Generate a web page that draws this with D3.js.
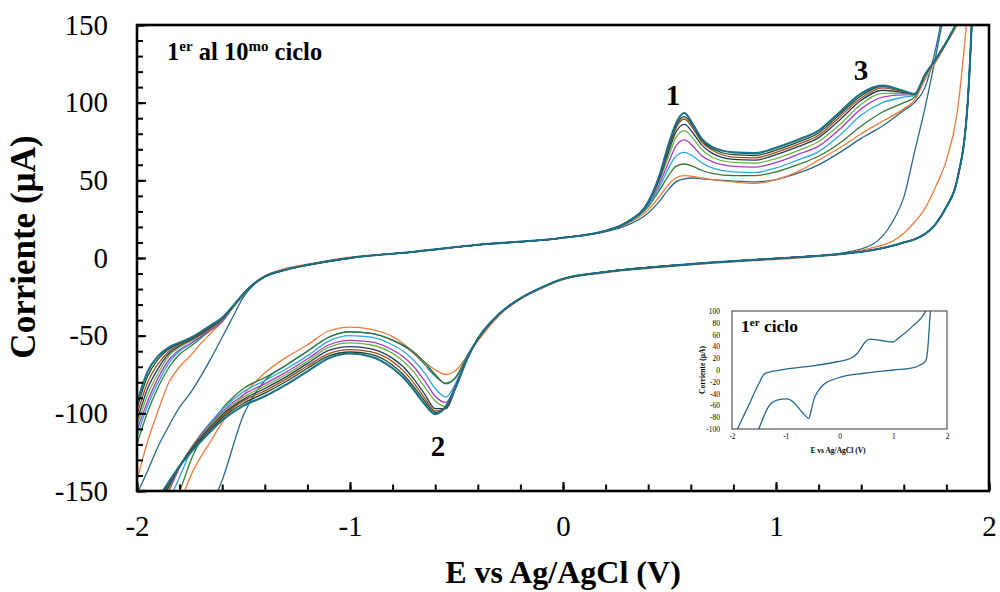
<!DOCTYPE html>
<html><head><meta charset="utf-8">
<script src="https://cdn.jsdelivr.net/npm/d3@7"></script>
<style>
body{margin:0;background:#fff;}
svg{display:block;}
text{font-family:"Liberation Serif","Times New Roman",serif;fill:#000;}
</style></head><body>
<svg id="chart" width="1000" height="592"></svg>
<script>
// ---------- DATA ----------
const xTicks = [-2, -1, 0, 1, 2];
const yTicks = [-150, -100, -50, 0, 50, 100, 150];
const insetYTicks = [-100, -80, -60, -40, -20, 0, 20, 40, 60, 80, 100];
const cycleColors = ["#25688e", "#f07a3a", "#2e7a36", "#2ba6de", "#a83cbf", "#6ab545", "#1f3b5c", "#9c4e1a", "#1d4a2a", "#1b6f88"];

// anodic (upper) branch potentials, V
const upE = [-2.0,-1.95,-1.9,-1.85,-1.8,-1.75,-1.7,-1.65,-1.6,-1.55,-1.5,-1.45,-1.4,-1.3,-1.2,-1.0,-0.7,-0.4,0,0.2,0.3,0.4,0.45,0.5,0.53,0.57,0.61,0.65,0.7,0.8,0.9,1.0,1.1,1.2,1.3,1.4,1.5,1.6,1.65,1.7,1.75,1.8,1.85,1.9,1.95];
const up1  = [-152,-137,-121,-108,-96,-87,-76,-64,-51,-38,-25,-17,-12,-7.5,-4.5,0,4,8.5,13,17,21,29,36,45,49,51,51.5,51,50.5,49.5,49,50.5,54.5,60,68,77,85,95,100,110,135,170,210,250,290];
const up2  = [-143,-118,-98,-80,-70,-63,-55,-48,-41,-32,-23,-16,-11.5,-6.5,-4,0.5,4,8.5,13,17.5,22,31,39,48,51.5,53,52.5,51.5,50.5,49,48,50.5,55.5,63,71,80,88,96,101.5,115,126,138,150,168,200];
const up3  = [-120,-99,-83,-70.5,-62,-57,-51.5,-46,-40.5,-32,-23.5,-16.5,-12,-7.5,-4.5,0,4,8.5,13,17.5,22.5,33,43,54,59,60.5,59,56.5,54.5,53,53,55.5,60,65.5,74,85,94,100,103.5,117,127.5,139,152,170,200];
const up4  = [-115,-95,-80,-67.5,-60,-55.5,-50.5,-45.5,-40,-32,-23.5,-16.5,-12,-7.5,-4.5,0,4,8.5,13,17.5,22.5,34,45,59,65.5,68,65.5,61.5,58,55.5,55,58,63,68.5,79,92,100,103.5,104.5,117,127.5,139,152,170,200];
const up5  = [-111,-92,-77,-65.5,-59,-55,-50.5,-46,-41,-32,-23.5,-16.5,-12,-7.5,-4.5,0,4,8.5,13,17.5,23,35,47,63,72,76,72,66,62,59,58.5,61.5,66.5,72,83,96,103.5,105,105,117.5,128,139,152,170,200];
const up6  = [-108,-88,-74,-63,-57.5,-53.5,-49.5,-45,-40,-32,-23.5,-16.5,-12,-7.5,-4.5,0,4,8.5,13,17.5,23,35.5,49,67,77.5,82,77,70,65,61.5,61,64,69,75,86,99,106,106,105,117.5,128,139,152,170,200];
const up7  = [-105,-84,-71,-61.5,-56.5,-53,-49,-44.5,-39.5,-31.5,-23,-16.5,-12,-7.5,-4.5,0,4,8.5,13,17.5,23,35.5,50,70,81,86,80.5,73,67.5,63.5,63,66.5,71.5,77.5,89,101.5,108,106.5,105.5,118,128,139,152,170,200];
const up8  = [-101,-80,-68,-60,-55.5,-52.5,-48.5,-44,-39,-31.5,-23,-16.5,-12,-7.5,-4.5,0,4,8.5,13,17.5,23,36,51,72,83.5,89.5,83.5,75,69.5,65,64.5,68,73,79,91,103,109.5,107,105.5,118,128,139,152,170,200];
const up9  = [-97,-76,-65,-58.5,-55,-52,-48,-43.5,-38.5,-31,-23,-16.5,-12,-7.5,-4.5,0,4,8.5,13,17.5,23,36,51.5,73.5,85,91,85,76,70.5,66.5,66,69.5,74.5,80.5,92.5,104.5,110.5,107.5,105.5,118,128,139,152,170,200];
const up10 = [-93,-73,-63,-57.5,-54.5,-51.5,-47.5,-43,-38.5,-31,-23,-16.5,-12,-7.5,-4.5,0,4,8.5,13,17.5,23,36,52,75,86.5,93.3,86,77,71.5,68,67.5,71,76,82,94,106,111,107.5,105.5,118,128,139,152,170,200];

// cathodic (lower) branch potentials, V
const loE = [-2.0,-1.9,-1.85,-1.8,-1.74,-1.65,-1.6,-1.5,-1.4,-1.3,-1.2,-1.1,-1.0,-0.9,-0.8,-0.75,-0.7,-0.65,-0.6,-0.55,-0.5,-0.45,-0.4,-0.3,-0.2,-0.1,0,0.2,0.5,0.8,1.1,1.3,1.45,1.55,1.6,1.65,1.7,1.75,1.8,1.85,1.9,1.95];
const lo1  = [-300,-260,-240,-215,-190,-160,-143,-101,-79,-69,-60,-51,-47.5,-48.5,-53,-56.5,-61.5,-68.5,-76,-80.5,-76.5,-63,-52.5,-36.5,-26,-19,-13.5,-9,-5,-2,0.5,3,8.5,24,39,68,97,130,165,200,240,280];
const lo2  = [-220,-195,-175,-158,-138,-117,-106,-88,-74,-64,-56,-47,-44.5,-46,-50.6,-55,-61,-67,-72,-75,-72,-63,-53.5,-37,-26.5,-19.5,-14,-9.5,-5.5,-2.5,0,2.5,6.5,11,16,23,32,46,63,93,160,250];
const lo3  = [-200,-180,-165,-150,-128,-106,-97,-84,-77,-69,-60,-51,-47.4,-48.5,-52.8,-56,-60.5,-67,-75,-81,-76,-63,-52.5,-36,-26,-19,-13.5,-9,-5,-2,0.5,2.5,5,8,10,12,15.5,22,33,50,100,260];
const lo4  = [-190,-168,-156,-141,-122,-105,-97.5,-86,-79,-71.5,-63,-53.5,-50,-51,-56,-60,-66,-74,-84,-89.5,-79.5,-63.5,-52,-36,-26,-19,-13.5,-9,-5,-2,0.5,2.5,5,8,10,12,15.5,22,33,50,100,260];
const lo5  = [-185,-163,-150,-135,-121,-106,-99,-88,-81,-73.5,-65,-56,-53,-54,-59.2,-63.5,-70,-79,-89,-93,-80.5,-64,-52,-36,-26,-19,-13.5,-9,-5,-2,0.5,2.5,5,8,10,12,15.5,22,33,50,100,260];
const lo6  = [-185,-160,-148,-134,-121.5,-107,-100,-89.5,-82.5,-75,-66.5,-57.5,-54.7,-56,-61.4,-66.5,-73.5,-83,-92,-95.5,-81.5,-64,-52,-36,-26,-19,-13.5,-9,-5,-2,0.5,2.5,5,8,10,12,15.5,22,33,50,100,260];
const lo7  = [-185,-158,-147,-134,-122,-108,-101,-91,-84,-76.5,-68,-59.5,-57,-58.5,-64.6,-70,-78,-87.5,-97,-97,-82,-64.5,-52,-36,-26,-19,-13.5,-9,-5,-2,0.5,2.5,5,8,10,12,15.5,22,33,50,100,260];
const lo8  = [-185,-157,-146,-134,-122.5,-109,-102,-92,-85.5,-78,-69.5,-61.5,-59,-60.5,-66.7,-72.5,-80.5,-90,-98.5,-96.5,-82,-64.5,-52,-36,-26,-19,-13.5,-9,-5,-2,0.5,2.5,5,8,10,12,15.5,22,33,50,100,260];
const lo9  = [-185,-156,-145,-134,-123,-110,-103,-93.5,-87,-79.5,-71,-63,-60.5,-62,-69,-75,-83,-92,-99.5,-96,-82,-64.5,-52,-36,-26,-19,-13.5,-9,-5,-2,0.5,2.5,5,8,10,12,15.5,22,33,50,100,260];
const lo10 = [-185,-155,-144,-134,-124,-111,-104.5,-95,-89,-81.5,-73,-64.5,-61.5,-63.5,-71,-77,-85,-94,-100.5,-95.5,-82,-65,-52,-36,-26,-19,-13.5,-9,-5,-2,0.5,2.5,5,8,10,12,15.5,22,33,50,100,260];

// inset: first cycle only
const insetUpE = [-1.95,-1.895,-1.8,-1.7,-1.6,-1.5,-1.44,-1.4,-1.3,-1.16,-1.0,-0.5,-0.05,0.2,0.33,0.4,0.48,0.57,0.7,0.85,0.98,1.13,1.32,1.38,1.5,1.6,1.65];
const insetUpI = [-111,-100,-81,-62,-42,-23,-12,-7,-3.5,-1,1.5,7,14,19.5,28,37,48,52.5,51,49,47.5,56.5,70.5,76,86,99,110];
const insetLoE = [-1.55,-1.5,-1.45,-1.41,-1.32,-1.16,-0.98,-0.85,-0.73,-0.65,-0.574,-0.52,-0.48,-0.4,-0.3,-0.05,0.45,1.0,1.38,1.5,1.58,1.62,1.65,1.67,1.69,1.71];
const insetLoI = [-118,-100,-88,-79,-62,-51,-49,-55,-68,-76,-82,-66,-51,-36,-25,-14,-5.5,0,4,8.5,13,20,45,72,100,130];

const upper = [up1, up2, up3, up4, up5, up6, up7, up8, up9, up10];
const lower = [lo1, lo2, lo3, lo4, lo5, lo6, lo7, lo8, lo9, lo10];

// ---------- CHART ----------
const svg = d3.select("#chart");
const m = {l: 137, r: 989, t: 25, b: 491};
const x = d3.scaleLinear().domain([-2, 2]).range([m.l, m.r]);
const y = d3.scaleLinear().domain([-150, 150]).range([m.b, m.t]);

const defs = svg.append("defs");
defs.append("clipPath").attr("id", "clipMain").append("rect")
  .attr("x", m.l).attr("y", m.t).attr("width", m.r - m.l).attr("height", m.b - m.t);

const line = d3.line().x(d => x(d[0])).y(d => y(d[1])).curve(d3.curveMonotoneX);
const gLines = svg.append("g").attr("clip-path", "url(#clipMain)");
upper.forEach((arr, i) => {
  const w = i === 9 ? 2.1 : 1.3;
  gLines.append("path").datum(upE.map((e, j) => [e, arr[j]]))
    .attr("d", line).attr("fill", "none").attr("stroke", cycleColors[i]).attr("stroke-width", w);
  gLines.append("path").datum(loE.map((e, j) => [e, lower[i][j]]))
    .attr("d", line).attr("fill", "none").attr("stroke", cycleColors[i]).attr("stroke-width", w);
});

// axes (inward ticks)
function styleAxis(g) {
  g.select(".domain").remove();
  g.selectAll(".tick line").attr("stroke", "#000").attr("stroke-width", 2);
}
svg.append("g").attr("transform", `translate(${m.l},0)`)
  .call(d3.axisLeft(y).tickValues(d3.range(-150, 151, 10)).tickSize(-6).tickFormat(""))
  .call(styleAxis);
const yAx = svg.append("g").attr("transform", `translate(${m.l},0)`)
  .call(d3.axisLeft(y).tickValues(yTicks).tickSize(-9).tickPadding(29).tickFormat(d => String(d)))
  .call(styleAxis);
yAx.selectAll("text").attr("font-size", 29).attr("font-family", "Liberation Serif").attr("fill", "#000");

svg.append("g").attr("transform", `translate(0,${m.b})`)
  .call(d3.axisBottom(x).tickValues(d3.range(-2, 2.01, 0.2)).tickSize(-6.5).tickFormat(""))
  .call(styleAxis);
const xAx = svg.append("g").attr("transform", `translate(0,${m.b})`)
  .call(d3.axisBottom(x).tickValues(xTicks).tickSize(-9).tickPadding(24).tickFormat(d => String(d)))
  .call(styleAxis);
xAx.selectAll("text").attr("font-size", 29).attr("font-family", "Liberation Serif").attr("fill", "#000");

// frame
svg.append("rect").attr("x", m.l).attr("y", m.t).attr("width", m.r - m.l).attr("height", m.b - m.t)
  .attr("fill", "none").attr("stroke", "#000").attr("stroke-width", 2.6);

// axis titles
svg.append("text").attr("x", 563).attr("y", 583).attr("text-anchor", "middle")
  .attr("font-size", 32).attr("font-weight", "bold").text("E vs Ag/AgCl (V)");
svg.append("text").attr("transform", "translate(35,247) rotate(-90)").attr("text-anchor", "middle")
  .attr("font-size", 35).attr("font-weight", "bold").text("Corriente (µA)");

// annotations
const t1 = svg.append("text").attr("x", 167).attr("y", 60).attr("font-size", 24.5).attr("font-weight", "bold");
t1.append("tspan").text("1");
t1.append("tspan").attr("font-size", 15).attr("dy", -9).text("er");
t1.append("tspan").attr("dy", 9).text(" al 10");
t1.append("tspan").attr("font-size", 15).attr("dy", -9).text("mo");
t1.append("tspan").attr("dy", 9).text(" ciclo");
svg.append("text").attr("x", 673).attr("y", 105).attr("text-anchor", "middle").attr("font-size", 29).attr("font-weight", "bold").text("1");
svg.append("text").attr("x", 861).attr("y", 80).attr("text-anchor", "middle").attr("font-size", 29).attr("font-weight", "bold").text("3");
svg.append("text").attr("x", 438).attr("y", 456).attr("text-anchor", "middle").attr("font-size", 29).attr("font-weight", "bold").text("2");

// ---------- INSET ----------
const im = {l: 732, r: 947, t: 311, b: 429};
const ix = d3.scaleLinear().domain([-2, 2]).range([im.l, im.r]);
const iy = d3.scaleLinear().domain([-100, 100]).range([im.b, im.t]);
svg.append("rect").attr("x", 692).attr("y", 303).attr("width", 268).attr("height", 155).attr("fill", "#fff");
defs.append("clipPath").attr("id", "clipInset").append("rect")
  .attr("x", im.l).attr("y", im.t).attr("width", im.r - im.l).attr("height", im.b - im.t);
const iline = d3.line().x(d => ix(d[0])).y(d => iy(d[1])).curve(d3.curveMonotoneX);
const gi = svg.append("g").attr("clip-path", "url(#clipInset)");
gi.append("path").datum(insetUpE.map((e, j) => [e, insetUpI[j]])).attr("d", iline)
  .attr("fill", "none").attr("stroke", cycleColors[0]).attr("stroke-width", 1.3);
gi.append("path").datum(insetLoE.map((e, j) => [e, insetLoI[j]])).attr("d", iline)
  .attr("fill", "none").attr("stroke", cycleColors[0]).attr("stroke-width", 1.3);
svg.append("rect").attr("x", im.l).attr("y", im.t).attr("width", im.r - im.l).attr("height", im.b - im.t)
  .attr("fill", "none").attr("stroke", "#333").attr("stroke-width", 1);
const iyAx = svg.append("g").attr("transform", `translate(${im.l},0)`)
  .call(d3.axisLeft(iy).tickValues(insetYTicks).tickSize(0).tickPadding(12).tickFormat(d => String(d)));
iyAx.select(".domain").remove();
iyAx.selectAll("text").attr("font-size", 7.5).attr("fill", "#222");
const ixAx = svg.append("g").attr("transform", `translate(0,${im.b})`)
  .call(d3.axisBottom(ix).tickValues(xTicks).tickSize(0).tickPadding(5).tickFormat(d => String(d)));
ixAx.select(".domain").remove();
ixAx.selectAll("text").attr("font-size", 7.5).attr("fill", "#222");
svg.append("text").attr("x", 838).attr("y", 453).attr("text-anchor", "middle")
  .attr("font-size", 7.5).attr("font-weight", "bold").attr("fill", "#222").text("E vs Ag/AgCl (V)");
svg.append("text").attr("transform", "translate(705,370) rotate(-90)").attr("text-anchor", "middle")
  .attr("font-size", 7.5).attr("font-weight", "bold").attr("fill", "#222").text("Corriente (µA)");
const t2 = svg.append("text").attr("x", 741).attr("y", 332).attr("font-size", 17.5).attr("font-weight", "bold");
t2.append("tspan").text("1");
t2.append("tspan").attr("font-size", 11).attr("dy", -6.5).text("er");
t2.append("tspan").attr("dy", 6.5).text(" ciclo");
</script>
</body></html>
